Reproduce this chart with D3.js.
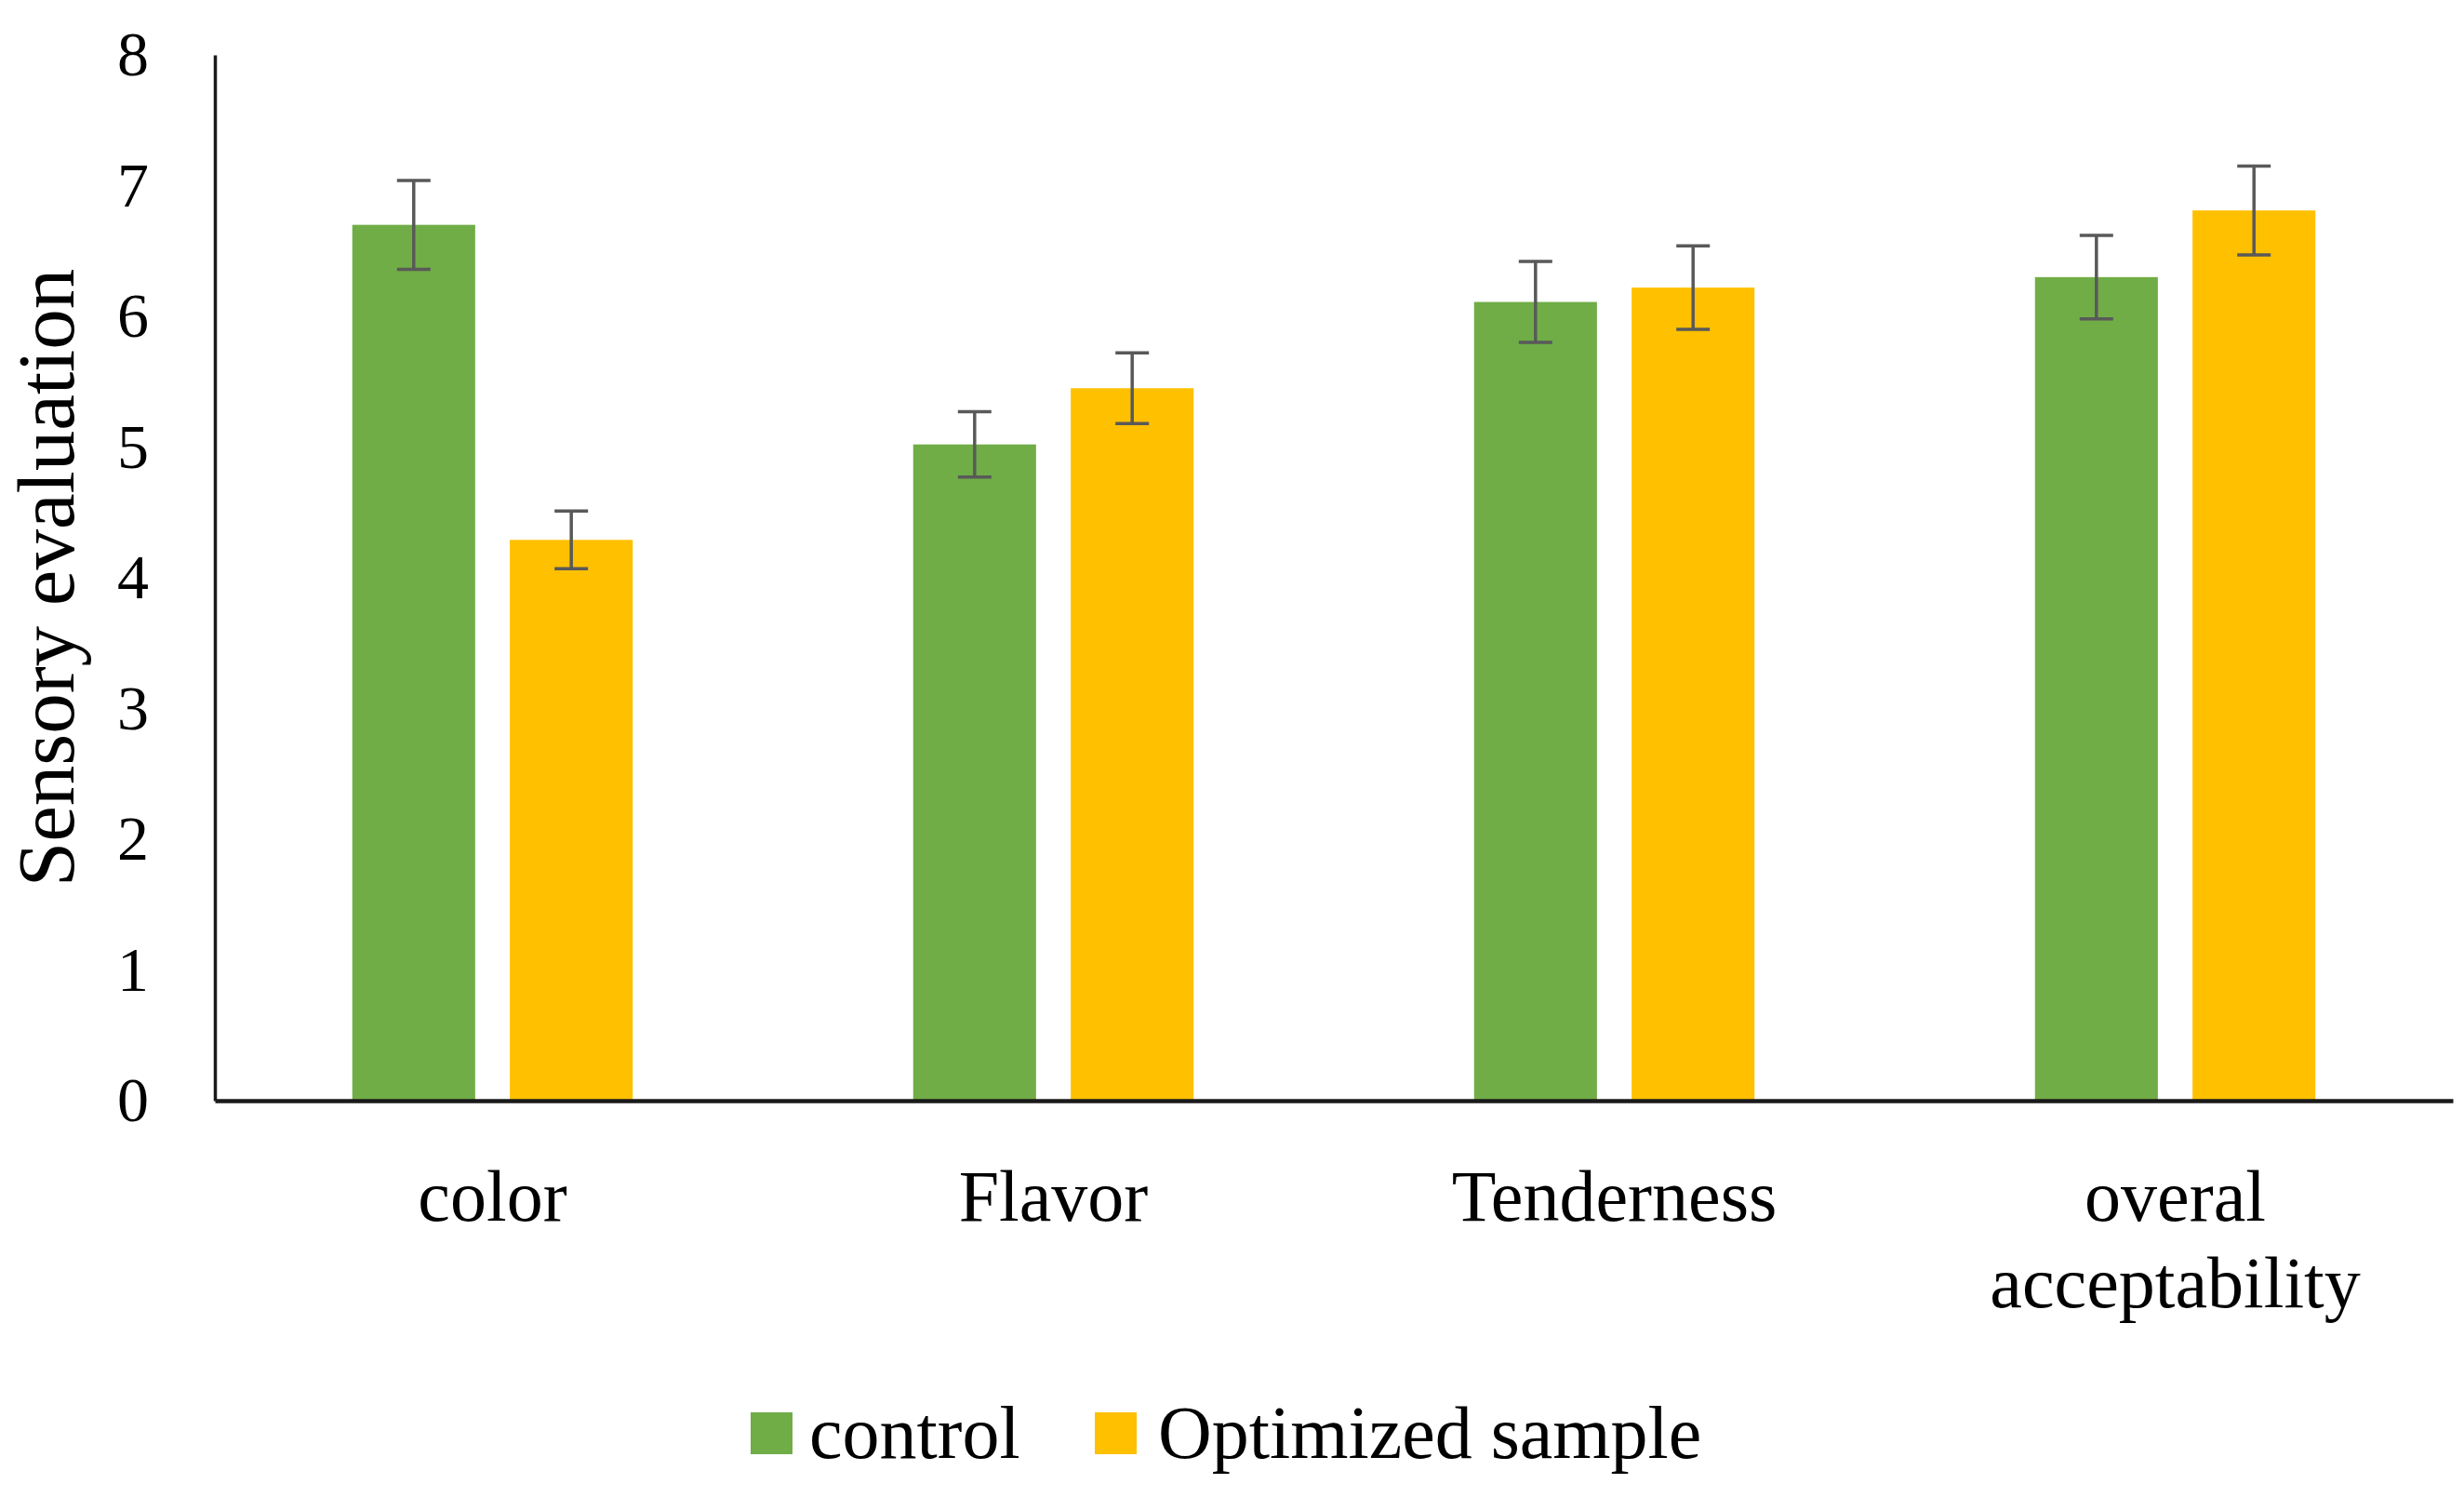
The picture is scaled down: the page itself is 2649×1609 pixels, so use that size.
<!DOCTYPE html>
<html>
<head>
<meta charset="utf-8">
<script src="https://cdn.jsdelivr.net/npm/d3@7"></script>
<style>
  body { margin: 0; background: #fff; }
  text { font-family: "Liberation Serif", "DejaVu Serif", serif; fill: #000; }
</style>
</head>
<body>
<div id="chart"></div>
<script>
// values
const categories = ["color", "Flavor", "Tenderness", "overal acceptability"]
const categoryLines = [["color"], ["Flavor"], ["Tenderness"], ["overal", "acceptability"]]
const series = ["control", "Optimized sample"]
const control = [6.70, 5.02, 6.11, 6.30]
const controlErr = [0.34, 0.25, 0.31, 0.32]
const optimized = [4.29, 5.45, 6.22, 6.81]
const optimizedErr = [0.22, 0.27, 0.32, 0.34]
const yTicks = [0, 1, 2, 3, 4, 5, 6, 7, 8]

const COLORS = { "control": "#70AD47", "Optimized sample": "#FFC000" }
const W = 2649, H = 1609
const MARGIN = { TOP: 59, BOTTOM: 426, LEFT: 231, RIGHT: 12 }

const svg = d3.select("#chart")
  .append("svg")
    .attr("width", W)
    .attr("height", H)

svg.append("rect").attr("width", W).attr("height", H).attr("fill", "#fff")

const y = d3.scaleLinear()
  .domain([0, 8])
  .range([H - MARGIN.BOTTOM, MARGIN.TOP])

const x0 = d3.scaleBand()
  .domain(categories)
  .range([MARGIN.LEFT, W - MARGIN.RIGHT])
  .paddingInner(0.5)
  .paddingOuter(0.245)

const x1 = d3.scaleBand()
  .domain(series)
  .range([0, x0.bandwidth()])
  .paddingInner(0.22)

const rows = categories.map((c, i) => ({
  cat: c,
  vals: [
    { s: series[0], v: control[i], e: controlErr[i] },
    { s: series[1], v: optimized[i], e: optimizedErr[i] }
  ]
}))

// bars
const groups = svg.selectAll("g.grp")
  .data(rows)
  .enter().append("g")
    .attr("class", "grp")
    .attr("transform", d => `translate(${x0(d.cat)},0)`)

groups.selectAll("rect")
  .data(d => d.vals)
  .enter().append("rect")
    .attr("x", d => x1(d.s))
    .attr("y", d => y(d.v))
    .attr("width", x1.bandwidth())
    .attr("height", d => y(0) - y(d.v))
    .attr("fill", d => COLORS[d.s])

// error bars
const capW = 36
const eb = groups.selectAll("g.err")
  .data(d => d.vals)
  .enter().append("g")
    .attr("class", "err")
    .attr("stroke", "#595959")
    .attr("stroke-width", 3.5)

eb.append("line")
  .attr("x1", d => x1(d.s) + x1.bandwidth() / 2)
  .attr("x2", d => x1(d.s) + x1.bandwidth() / 2)
  .attr("y1", d => y(d.v + d.e))
  .attr("y2", d => y(d.v - d.e))
eb.append("line")
  .attr("x1", d => x1(d.s) + x1.bandwidth() / 2 - capW / 2)
  .attr("x2", d => x1(d.s) + x1.bandwidth() / 2 + capW / 2)
  .attr("y1", d => y(d.v + d.e))
  .attr("y2", d => y(d.v + d.e))
eb.append("line")
  .attr("x1", d => x1(d.s) + x1.bandwidth() / 2 - capW / 2)
  .attr("x2", d => x1(d.s) + x1.bandwidth() / 2 + capW / 2)
  .attr("y1", d => y(d.v - d.e))
  .attr("y2", d => y(d.v - d.e))

// y axis
const yAxis = svg.append("g")
  .attr("transform", `translate(${MARGIN.LEFT},0)`)
  .call(d3.axisLeft(y).tickValues(yTicks).tickSize(0).tickSizeOuter(0).tickPadding(71))
yAxis.select(".domain").attr("stroke", "#1a1a1a").attr("stroke-width", 3.5)
yAxis.selectAll("text")
  .attr("font-size", 68)
  .attr("font-family", "Liberation Serif")
  .attr("fill", "#000")

// x axis
const xAxis = svg.append("g")
  .attr("transform", `translate(0,${y(0)})`)
  .call(d3.axisBottom(x0).tickSize(0).tickSizeOuter(0).tickFormat(""))
xAxis.select(".domain").attr("stroke", "#1a1a1a").attr("stroke-width", 4.5)

const labels = xAxis.selectAll(".tick")
  .append("text")
    .attr("text-anchor", "middle")
    .attr("font-size", 78)
    .attr("font-family", "Liberation Serif")
    .attr("fill", "#000")
labels.each(function (d, i) {
  const t = d3.select(this)
  categoryLines[i].forEach((line, k) => {
    t.append("tspan")
      .attr("x", 0)
      .attr("y", 129 + k * 93)
      .text(line)
  })
})

// y axis title
svg.append("text")
  .attr("transform", `translate(79,${(y(0) + y(8)) / 2}) rotate(-90)`)
  .attr("text-anchor", "middle")
  .attr("font-size", 87)
  .text("Sensory evaluation")

// legend
const legendItems = [
  { s: series[0], boxX: 807, textX: 870 },
  { s: series[1], boxX: 1177, textX: 1245 }
]
const legend = svg.append("g")
legend.selectAll("rect")
  .data(legendItems)
  .enter().append("rect")
    .attr("x", d => d.boxX)
    .attr("y", 1518)
    .attr("width", 45)
    .attr("height", 45)
    .attr("fill", d => COLORS[d.s])
legend.selectAll("text")
  .data(legendItems)
  .enter().append("text")
    .attr("x", d => d.textX)
    .attr("y", 1567)
    .attr("font-size", 80)
    .text(d => d.s)
</script>
</body>
</html>
